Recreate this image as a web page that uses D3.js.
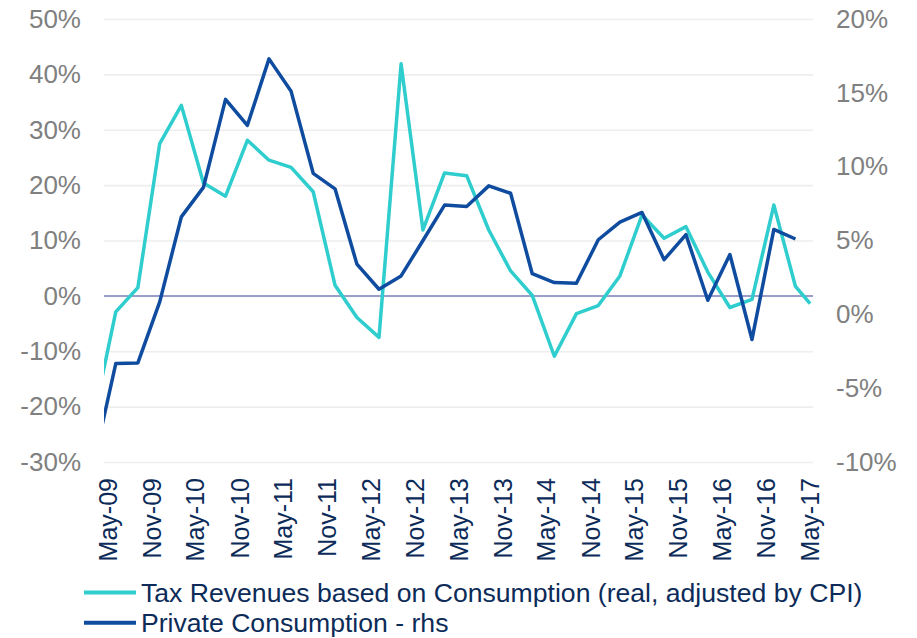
<!DOCTYPE html>
<html>
<head>
<meta charset="utf-8">
<script src="https://cdn.jsdelivr.net/npm/d3@7"></script>
<style>
  body { margin: 0; background: #fff; }
  svg { display: block; font-family: "Liberation Sans", Arial, sans-serif; }
</style>
</head>
<body>
<script>
// quarterly observations (tax series has one extra monthly point at the end)
const dates = ["Mar-09","Jun-09","Sep-09","Dec-09","Mar-10","Jun-10","Sep-10","Dec-10",
               "Mar-11","Jun-11","Sep-11","Dec-11","Mar-12","Jun-12","Sep-12","Dec-12",
               "Mar-13","Jun-13","Sep-13","Dec-13","Mar-14","Jun-14","Sep-14","Dec-14",
               "Mar-15","Jun-15","Sep-15","Dec-15","Mar-16","Jun-16","Sep-16","Dec-16",
               "Mar-17","May-17"];

// left axis, %
const taxRevenues = [-22.0, -2.9, 1.5, 27.5, 34.4, 20.4, 18.0, 28.1,
                     24.5, 23.2, 18.8, 1.9, -3.9, -7.5, 41.9, 11.9,
                     22.2, 21.7, 11.9, 4.5, 0.1, -10.9, -3.2, -1.75,
                     3.6, 14.6, 10.4, 12.5, 4.3, -2.1, -0.65, 16.4,
                     1.7, -1.4];

// right axis, %
const privateConsumption = [-10.1, -3.33, -3.29, 0.84, 6.6, 8.6, 14.56, 12.8,
                            17.3, 15.1, 9.55, 8.5, 3.4, 1.7, 2.6, 5.0,
                            7.4, 7.3, 8.7, 8.2, 2.75, 2.15, 2.1, 5.05,
                            6.25, 6.9, 3.7, 5.4, 0.95, 4.05, -1.7, 5.75,
                            5.1, null];

const tickLabels = ["May-09","Nov-09","May-10","Nov-10","May-11","Nov-11","May-12","Nov-12",
                    "May-13","Nov-13","May-14","Nov-14","May-15","Nov-15","May-16","Nov-16","May-17"];

const leftTicks = [-30, -20, -10, 0, 10, 20, 30, 40, 50];
const rightTicks = [-10, -5, 0, 5, 10, 15, 20];

const seriesNames = ["Tax Revenues based on Consumption (real, adjusted by CPI)", "Private Consumption - rhs"];
const seriesColors = ["#2fcdcd", "#0f4c9f"];

const parseDate = d3.timeParse("%b-%y");

const margin = {top: 19, right: 104, left: 104, bottom: 176};
const outerWidth = 917;
const outerHeight = 638;
const width = outerWidth - margin.left - margin.right;
const height = outerHeight - margin.top - margin.bottom;

const outerSvg = d3.select("body").append("svg")
    .attr("width", outerWidth)
    .attr("height", outerHeight);

const svg = outerSvg.append("g")
    .attr("transform", "translate(" + margin.left + "," + margin.top + ")");

// scales
const xScale = d3.scaleTime()
    .domain([new Date(2009, 3, 13), new Date(2017, 4, 13)])
    .range([0, width]);
const yLeft = d3.scaleLinear().domain([-30, 50]).range([height, 0]);
const yRight = d3.scaleLinear().domain([-10, 20]).range([height, 0]);

// gridlines
const grid = svg.append("g")
    .call(d3.axisLeft(yLeft).tickValues(leftTicks).tickSize(-width).tickFormat(""));
grid.select(".domain").remove();
grid.selectAll("line").attr("stroke", "#eeeeee").attr("stroke-width", 1.6);

// zero line
svg.append("line")
    .attr("x1", 0).attr("x2", width)
    .attr("y1", yLeft(0)).attr("y2", yLeft(0))
    .attr("stroke", "#9b9dcb")
    .attr("stroke-width", 2);

// axes
const yAxisLeft = svg.append("g")
    .call(d3.axisLeft(yLeft).tickValues(leftTicks).tickSize(0).tickPadding(23).tickFormat(d => d + "%"));
const yAxisRight = svg.append("g")
    .attr("transform", "translate(" + width + ",0)")
    .call(d3.axisRight(yRight).tickValues(rightTicks).tickSize(0).tickPadding(23).tickFormat(d => d + "%"));

[yAxisLeft, yAxisRight].forEach(ax => {
    ax.select(".domain").remove();
    ax.selectAll("text")
        .attr("fill", "#808080")
        .style("font-size", "26px")
        .style("font-family", "'Liberation Sans', Arial, sans-serif");
});

const xAxis = svg.append("g")
    .attr("transform", "translate(0," + height + ")")
    .call(d3.axisBottom(xScale).tickValues(tickLabels.map(parseDate)).tickSize(0).tickFormat(d3.timeFormat("%b-%y")));
xAxis.select(".domain").remove();
xAxis.selectAll("text")
    .attr("transform", "rotate(-90)")
    .attr("x", -16)
    .attr("y", 0)
    .attr("dy", "0.32em")
    .attr("text-anchor", "end")
    .attr("fill", "#0c2b59")
    .style("font-size", "25px")
    .style("font-family", "'Liberation Sans', Arial, sans-serif");

// lines, clipped to the plot area
svg.append("clipPath").attr("id", "plot-clip")
    .append("rect").attr("width", width).attr("height", height + 20).attr("y", -10);

const taxData = dates.map((d, i) => ({date: parseDate(d), value: taxRevenues[i]}));
const consData = dates.map((d, i) => ({date: parseDate(d), value: privateConsumption[i]}))
    .filter(d => d.value !== null);

const taxLine = d3.line().x(d => xScale(d.date)).y(d => yLeft(d.value));
const consLine = d3.line().x(d => xScale(d.date)).y(d => yRight(d.value));

const lines = svg.append("g").attr("clip-path", "url(#plot-clip)");
lines.append("path")
    .datum(taxData)
    .attr("d", taxLine)
    .attr("fill", "none")
    .attr("stroke", seriesColors[0])
    .attr("stroke-width", 3.5)
    .attr("stroke-linejoin", "round");
lines.append("path")
    .datum(consData)
    .attr("d", consLine)
    .attr("fill", "none")
    .attr("stroke", seriesColors[1])
    .attr("stroke-width", 3.5)
    .attr("stroke-linejoin", "round");

// legend
const legend = outerSvg.append("g");
const legendItems = legend.selectAll("g")
    .data(seriesNames)
    .join("g")
    .attr("transform", (d, i) => "translate(84," + (592.5 + i * 30.3) + ")");
legendItems.append("line")
    .attr("x1", 0).attr("x2", 52)
    .attr("stroke", (d, i) => seriesColors[i])
    .attr("stroke-width", 4);
legendItems.append("text")
    .attr("x", 57)
    .attr("dy", "0.35em")
    .attr("fill", "#0c2b59")
    .style("font-size", "26.6px")
    .text(d => d);
</script>
</body>
</html>
